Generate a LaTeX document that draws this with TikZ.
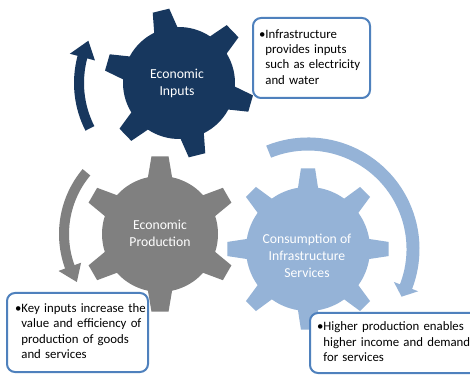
\documentclass[tikz,border=0pt]{standalone}
\usepackage{fontspec}
\setmainfont{Carlito}
\definecolor{gnavy}{RGB}{23,55,94}
\definecolor{ggray}{RGB}{128,128,128}
\definecolor{glight}{RGB}{149,179,215}
\definecolor{bborder}{RGB}{79,129,189}
% #1 centre, #2 colour, #3 teeth, #4 rotation, #5 body radius, #6 outer radius, #7 base half-angle, #8 tip half-angle
\newcommand{\drawgear}[8]{%
  \pgfmathsetmacro\gstep{360/#3}%
  \fill[#2,shift={#1}] ({#4-#7}:#5)
    \foreach \k in {1,...,#3}{
      -- ({#4+(\k-1)*\gstep-#8}:#6) -- ({#4+(\k-1)*\gstep+#8}:#6)
      -- ({#4+(\k-1)*\gstep+#7}:#5)
      arc[start angle={#4+(\k-1)*\gstep+#7}, end angle={#4+\k*\gstep-#7}, radius=#5]
    } -- cycle;}
% #1 centre, #2 colour, #3 radius, #4 width, #5 start angle, #6 head base angle, #7 tip angle, #8 head half-width
\newcommand{\blockarrow}[8]{%
  \fill[#2,shift={#1}] ({#5}:{#3+#4/2})
    arc[start angle=#5, end angle=#6, radius={#3+#4/2}]
    -- ({#6}:{#3+#8}) -- ({#7}:#3) -- ({#6}:{#3-#8}) -- ({#6}:{#3-#4/2})
    arc[start angle=#6, end angle=#5, radius={#3-#4/2}] -- cycle;}
\tikzset{
  infobox/.style={draw=bborder, line width=2pt, fill=white, rounded corners=8pt,
    align=left, font=\fontsize{12.8}{15.3}\selectfont, text=black},
  glabel/.style={text=white, align=center, font=\fontsize{13.7}{17}\selectfont}
}
\newcommand{\bul}{\textbullet}
\begin{document}
\begin{tikzpicture}[x=1pt,y=1pt]
\clip (0,0) rectangle (470,374);
\fill[white] (0,0) rectangle (470,374);
% gears
\drawgear{(179,291)}{gnavy}{6}{104}{56}{75}{12.3}{6.5}
\drawgear{(160,140)}{ggray}{6}{90}{58}{78}{12}{6.3}
\drawgear{(308,125)}{glight}{8}{0}{62}{81}{9.3}{5}
% circular arrows
\blockarrow{(179,291)}{gnavy}{100}{10}{207}{165}{155}{13}
\blockarrow{(160,140)}{ggray}{96}{10}{140}{200}{210}{12}
\blockarrow{(308,125)}{glight}{105}{13}{112}{-21}{-27}{13}
% gear labels
\node[glabel] (t1) at (177,290.5) {Economic\\Inputs};
\node[glabel] (t2) at (160,140.5) {Economic\\Production};
\node[glabel] (t3) at (307,118) {Consumption of\\Infrastructure\\Services};
% boxes
\node[infobox, minimum width=117pt, minimum height=80pt, inner xsep=6pt, text width=105pt] (b1) at (311.5,316)
  {\begin{tabular}{@{}l@{}l@{}}\bul&Infrastructure\\&provides inputs\\&such as electricity\\&and water\end{tabular}};
\node[infobox, minimum width=141pt, minimum height=79pt, inner xsep=8pt, text width=125pt] (b2) at (77.5,41.5)
  {\begin{tabular}{@{}l@{}l@{}}\bul&Key inputs increase the\\&value and efficiency of\\&production of goods\\&and services\end{tabular}};
\node[infobox, minimum width=170pt, minimum height=60pt, inner xsep=7pt, text width=156pt] (b3) at (395,31)
  {\begin{tabular}{@{}l@{}l@{}}\bul&Higher production enables\\&higher income and demand\\&for services\end{tabular}};
\end{tikzpicture}
\end{document}
